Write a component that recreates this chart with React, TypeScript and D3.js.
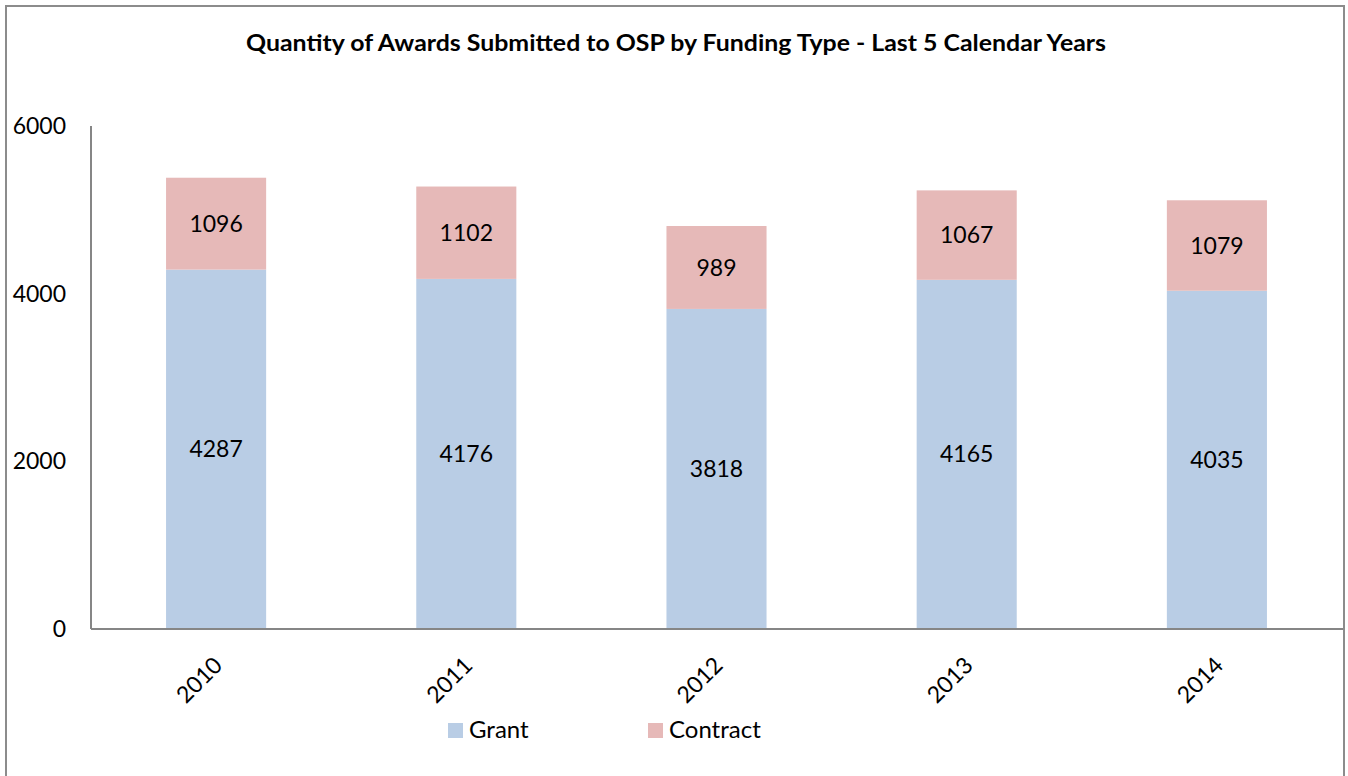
import React, { useEffect, useRef } from "react";
import * as d3 from "d3";

const years = ["2010", "2011", "2012", "2013", "2014"];
const grant = [4287, 4176, 3818, 4165, 4035];
const contract = [1096, 1102, 989, 1067, 1079];
const yTicks = [0, 2000, 4000, 6000];

const W = 1348;
const H = 776;
const FONT = "Lato, 'Open Sans', sans-serif";

export default function App() {
  const ref = useRef<SVGSVGElement>(null);

  useEffect(() => {
    const svg = d3.select(ref.current);
    svg.selectAll("*").remove();

    const margin = { top: 126, right: 5, bottom: 147, left: 91 };

    // chart border
    svg.append("rect")
      .attr("x", 6)
      .attr("y", 6)
      .attr("width", 1338)
      .attr("height", 800)
      .attr("fill", "#fff")
      .attr("stroke", "#8c8c8c")
      .attr("stroke-width", 2);

    svg.append("text")
      .attr("x", 676)
      .attr("y", 51)
      .attr("text-anchor", "middle")
      .attr("font-family", FONT)
      .attr("font-weight", "bold")
      .attr("font-size", 23)
      .attr("textLength", 860)
      .attr("lengthAdjust", "spacingAndGlyphs")
      .text("Quantity of Awards Submitted to OSP by Funding Type - Last 5 Calendar Years");

    const x = d3.scaleBand()
      .domain(years)
      .range([margin.left, W - margin.right - 1])
      .paddingInner(0.6)
      .paddingOuter(0.3);

    const y = d3.scaleLinear()
      .domain([0, 6000])
      .range([H - margin.bottom, margin.top]);

    const rows = years.map((yr, i) => ({ yr, grant: grant[i], contract: contract[i] }));
    const stack = d3.stack<any>().keys(["grant", "contract"])(rows);
    const colors: Record<string, string> = { grant: "#b9cde5", contract: "#e6b9b8" };

    const layers = svg.selectAll(".layer")
      .data(stack)
      .join("g")
      .attr("fill", d => colors[d.key]);

    layers.selectAll("rect")
      .data(d => d)
      .join("rect")
      .attr("x", d => x(d.data.yr)!)
      .attr("y", d => y(d[1]))
      .attr("width", x.bandwidth())
      .attr("height", d => y(d[0]) - y(d[1]));

    layers.selectAll("text")
      .data(d => d)
      .join("text")
      .attr("x", d => x(d.data.yr)! + x.bandwidth() / 2)
      .attr("y", d => (y(d[0]) + y(d[1])) / 2)
      .attr("dy", "0.35em")
      .attr("text-anchor", "middle")
      .attr("fill", "#000")
      .attr("font-family", FONT)
      .attr("font-size", 23)
      .text(d => d[1] - d[0]);

    // y axis
    svg.append("line")
      .attr("x1", margin.left).attr("x2", margin.left)
      .attr("y1", y(6000)).attr("y2", y(0))
      .attr("stroke", "#868686").attr("stroke-width", 2);

    svg.append("g")
      .selectAll("text")
      .data(yTicks)
      .join("text")
      .attr("x", 66)
      .attr("y", d => y(d))
      .attr("dy", "0.35em")
      .attr("text-anchor", "end")
      .attr("font-family", FONT)
      .attr("font-size", 23)
      .text(d => d);

    // x axis
    svg.append("line")
      .attr("x1", margin.left).attr("x2", W - margin.right)
      .attr("y1", y(0)).attr("y2", y(0))
      .attr("stroke", "#868686").attr("stroke-width", 2);

    svg.append("g")
      .selectAll("text")
      .data(years)
      .join("text")
      .attr("transform", d => `translate(${x(d)! + x.bandwidth() / 2 + 2},${y(0) + 32}) rotate(-45)`)
      .attr("text-anchor", "end")
      .attr("dy", "0.35em")
      .attr("font-family", FONT)
      .attr("font-size", 23)
      .text(d => d);

    // legend
    const legend = [
      { label: "Grant", key: "grant", x: 448 },
      { label: "Contract", key: "contract", x: 648 },
    ];
    const lg = svg.append("g").selectAll("g").data(legend).join("g");
    lg.append("rect")
      .attr("x", d => d.x)
      .attr("y", 723)
      .attr("width", 15)
      .attr("height", 15)
      .attr("fill", d => colors[d.key]);
    lg.append("text")
      .attr("x", d => d.x + 21)
      .attr("y", 730)
      .attr("dy", "0.35em")
      .attr("font-family", FONT)
      .attr("font-size", 24)
      .text(d => d.label);
  }, []);

  return (
    <svg
      ref={ref}
      width={W}
      height={H}
      style={{ position: "absolute", left: 0, top: 0, background: "#fff" }}
    />
  );
}
